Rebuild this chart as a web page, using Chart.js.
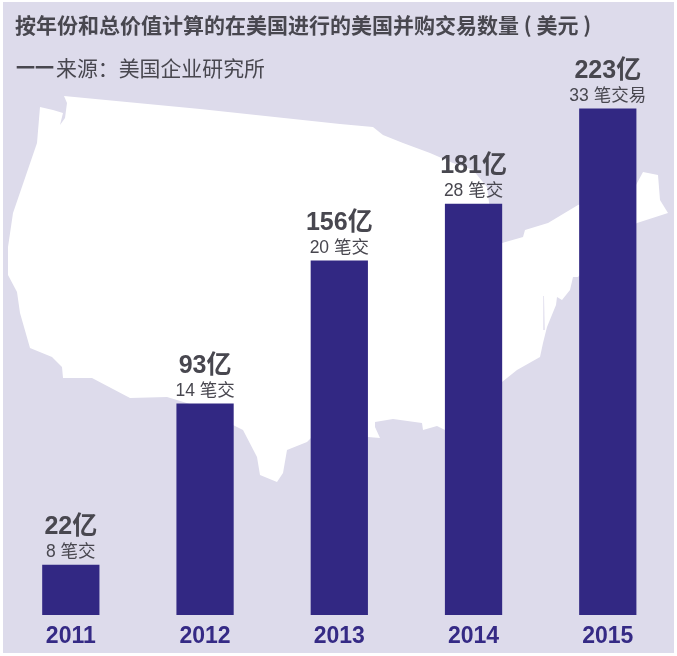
<!doctype html>
<html>
<head>
<meta charset="utf-8" />
<title>美国并购交易数量</title>
<script src="https://cdn.jsdelivr.net/npm/chart.js@4"></script>
<style>
    html, body { margin: 0; padding: 0; background: #fff; }
    canvas { display: block; }
</style>
</head>
<body>
<canvas id="dealChart" width="677" height="656"></canvas>
<script>
    var years = ["2011", "2012", "2013", "2014", "2015"];
    var totals = [22, 93, 156, 181, 223];
    var dealLabels = ["8 笔交", "14 笔交", "20 笔交", "28 笔交", "33 笔交易"];
    var chartTitle = "按年份和总价值计算的在美国进行的美国并购交易数量 ( 美元 )";
    var sourceDash = "一一";
    var chartSource = "来源：美国企业研究所";

    // background map outline, canvas pixels (decoration only, not data)
    var mapOutline = [
        [64, 96], [200, 109], [340, 124], [373, 127], [383, 135], [403, 143], [430, 153], [453, 163], [473, 170],
        [487, 187], [490, 210], [502, 243], [523, 237], [525, 230], [548, 223], [578, 205], [610, 195], [636, 185],
        [643, 172], [658, 175], [660, 200], [668, 213], [637, 223], [610, 240], [578, 277], [573, 277], [570, 290],
        [562, 300], [557, 297], [556, 305], [547, 327], [543, 343], [540, 357], [517, 370], [502, 382], [470, 410],
        [445, 430], [437, 426], [423, 430], [422, 423], [393, 419], [375, 422], [375, 427], [380, 438], [368, 437],
        [340, 437], [311, 438], [307, 442], [287, 450], [283, 473], [277, 482], [260, 475], [257, 457], [243, 430],
        [233, 425], [210, 420], [190, 404], [167, 397], [130, 398], [92, 378], [63, 378], [62, 367], [52, 357],
        [30, 348], [20, 313], [17, 292], [8, 275], [8, 247], [13, 213], [37, 143], [40, 107], [53, 110], [63, 113],
        [60, 125], [65, 118], [67, 103]
    ];
    var mapBay = [[543, 296], [544, 296], [545, 330], [543, 330]];

    function fillPoly(ctx, pts, color) {
        ctx.beginPath();
        pts.forEach(function (p, i) {
            if (i === 0) ctx.moveTo(p[0], p[1]);
            else ctx.lineTo(p[0], p[1]);
        });
        ctx.closePath();
        ctx.fillStyle = color;
        ctx.fill();
    }

    var backdrop = {
        id: "backdrop",
        beforeDraw: function (chart) {
            var ctx = chart.ctx;
            ctx.save();
            ctx.fillStyle = "#dddbeb";
            ctx.fillRect(3, 2, 671, 651);
            fillPoly(ctx, mapOutline, "#ffffff");
            fillPoly(ctx, mapBay, "#e8e6f2");
            ctx.restore();
        }
    };

    var texts = {
        id: "texts",
        afterDatasetsDraw: function (chart) {
            var ctx = chart.ctx;
            ctx.save();
            ctx.textBaseline = "middle";
            ctx.textAlign = "left";
            ctx.fillStyle = "#48474f";
            ctx.font = "bold 21px 'Noto Sans CJK SC'";
            ctx.fillText(chartTitle, 15, 25);
            ctx.font = "bold 19px 'Noto Sans CJK SC'";
            ctx.fillText(sourceDash, 16, 68);
            ctx.font = "20.9px 'Noto Sans CJK SC'";
            ctx.fillText(chartSource, 56, 68);

            ctx.textAlign = "center";
            chart.getDatasetMeta(0).data.forEach(function (bar, i) {
                ctx.font = "bold 25px 'Liberation Sans', 'Noto Sans CJK SC'";
                ctx.fillText(totals[i] + "亿", bar.x, bar.y - 38);
                ctx.font = "17.5px 'Liberation Sans', 'Noto Sans CJK SC'";
                ctx.fillText(dealLabels[i], bar.x, bar.y - 13);
            });
            ctx.restore();
        }
    };

    new Chart(document.getElementById("dealChart"), {
        type: "bar",
        data: {
            labels: years,
            datasets: [{
                data: totals,
                backgroundColor: "#322883",
                barThickness: 56.6
            }]
        },
        options: {
            responsive: false,
            animation: false,
            layout: { padding: { left: 3.7, right: 2.1, top: 2, bottom: 0 } },
            plugins: { legend: { display: false }, tooltip: { enabled: false } },
            scales: {
                x: {
                    grid: { display: false, drawTicks: false },
                    border: { display: false },
                    afterFit: function (scale) { scale.height = 41; },
                    ticks: {
                        color: "#352a85",
                        padding: 8,
                        font: { family: "'Liberation Sans'", size: 23, weight: "bold" }
                    }
                },
                y: {
                    display: false,
                    min: 0,
                    max: 270
                }
            }
        },
        plugins: [backdrop, texts]
    });
</script>
</body>
</html>
